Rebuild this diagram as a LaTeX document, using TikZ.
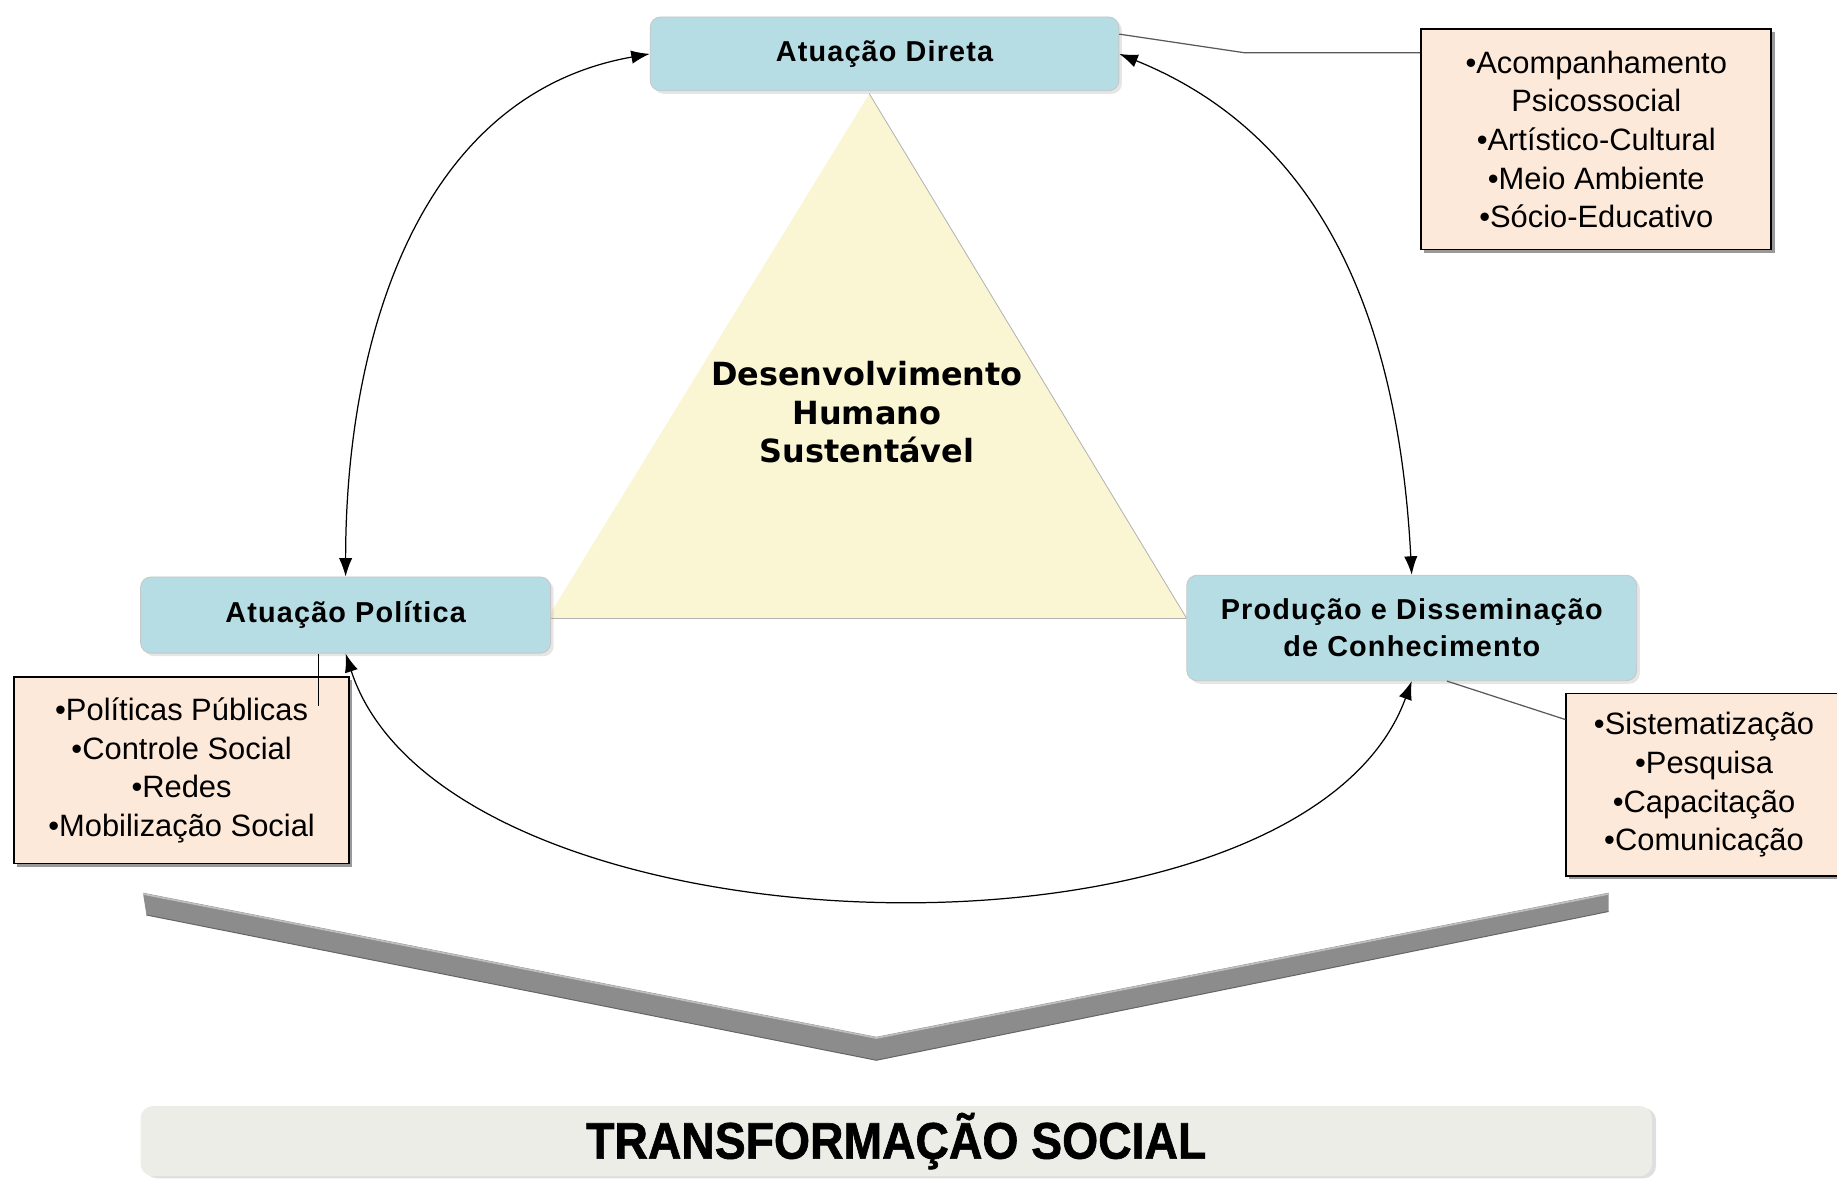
\documentclass[tikz,border=0pt]{standalone}
\usepackage{fontspec}
\setmainfont{Liberation Sans}
\newfontfamily\labelfont{Liberation Sans}[LetterSpace=4]
\newfontfamily\trifont{DejaVu Sans}
\newfontfamily\bannerfont{Liberation Sans}[FakeStretch=0.9, FakeBold=1.2]
\usepackage{tikz}
\usetikzlibrary{calc, arrows, arrows.meta, shapes, shadows}
\tikzset{>={Latex[length=9pt, width=6.5pt]}}
\definecolor{boxblue}{RGB}{183,221,228}
\definecolor{listpeach}{RGB}{253,233,217}
\definecolor{triyellow}{RGB}{250,246,212}
\definecolor{bannergray}{RGB}{237,237,231}
\tikzset{
  area/.style={fill=boxblue, draw=gray!45, line width=0.4pt, rounded corners=5pt, align=center,
    font=\labelfont\bfseries\fontsize{14}{18}\selectfont,
    drop shadow={opacity=0.2, shadow xshift=1.5pt, shadow yshift=-1.5pt}},
  itemlist/.style={fill=listpeach, draw=black, line width=0.9pt, align=center,
    font=\fontsize{15}{18.8}\selectfont,
    drop shadow={opacity=0.8, shadow xshift=1.5pt, shadow yshift=-1.5pt}},
  link/.style={<->, line width=0.6pt},
  leader/.style={gray!70!black, line width=0.6pt}
}

\begin{document}
\begin{tikzpicture}[scale=1]
\useasboundingbox (0,0) rectangle (31.36,20.12);

% triangle
\coordinate (apex) at (14.84,18.52);
\coordinate (tl) at (9.34,9.56);
\coordinate (tr) at (20.26,9.56);
\fill[triyellow] (apex) -- (tl) -- (tr) -- cycle;
\draw[gray!60, line width=0.4pt] (apex) -- (tr) -- (tl);
\node[font=\trifont\bfseries\fontsize{15.5}{18.8}\selectfont, align=center] (dhs) at (14.8,13.08) {Desenvolvimento\\Humano\\Sustentável};

% areas
\node[area, minimum width=8cm, minimum height=1.26cm] (direta) at (15.1,19.2) {Atuação Direta};
\node[area, minimum width=7cm, minimum height=1.3cm] (politica) at (5.9,9.62) {Atuação Política};
\node[area, minimum width=7.68cm, minimum height=1.8cm] (producao) at (24.1,9.4) {Produção e Disseminação\\de Conhecimento};

% lists
\node[itemlist, minimum width=5.98cm, minimum height=3.76cm] (dlist) at (27.25,17.74) {•Acompanhamento\\Psicossocial\\•Artístico-Cultural\\•Meio Ambiente\\•Sócio-Educativo};
\node[itemlist, minimum width=5.72cm, minimum height=3.18cm] (plist) at (3.1,6.97) {•Políticas Públicas\\•Controle Social\\•Redes\\•Mobilização Social};
\node[itemlist, minimum width=4.7cm, minimum height=3.12cm] (clist) at (29.09,6.72) {•Sistematização\\•Pesquisa\\•Capacitação\\•Comunicação};

% leaders
\coordinate (dbend) at (21.24,19.22);
\draw[leader] ([yshift=-0.3cm]direta.north east) -- (dbend) -- (dbend -| dlist.west);
\coordinate (pend) at (5.44,8.06);
\draw[black, line width=0.6pt] (pend |- politica.south) -- (pend);
\draw[leader] ([xshift=0.6cm]producao.south) -- ([yshift=-0.46cm]clist.north west);

% links
\draw[link] (politica.north) to[out=90, in=190] (direta.west);
\draw[link] (direta.east) to[out=-22, in=93] (producao.north);
\draw[link] (politica.south) to[out=-72, in=-110, looseness=0.78] (producao.south);

% chevron
\fill[black!45] (2.44,4.88) -- (14.96,2.42) -- (27.46,4.88) -- (27.46,4.56) -- (14.96,2.02) -- (2.5,4.5) -- cycle;
\draw[black!25, line width=0.8pt] (2.44,4.86) -- (14.96,2.40) -- (27.46,4.86);
\draw[black!60, line width=0.5pt] (2.5,4.5) -- (14.96,2.02) -- (27.46,4.56);

% result
\node[fill=bannergray, rounded corners=6pt, minimum width=25.8cm, minimum height=1.16cm,
  font=\bannerfont\bfseries\fontsize{25}{30}\selectfont,
  drop shadow={opacity=0.25, shadow xshift=2pt, shadow yshift=-1pt}] (transf) at (15.3,0.64) {TRANSFORMAÇÃO SOCIAL};

\end{tikzpicture}
\end{document}
